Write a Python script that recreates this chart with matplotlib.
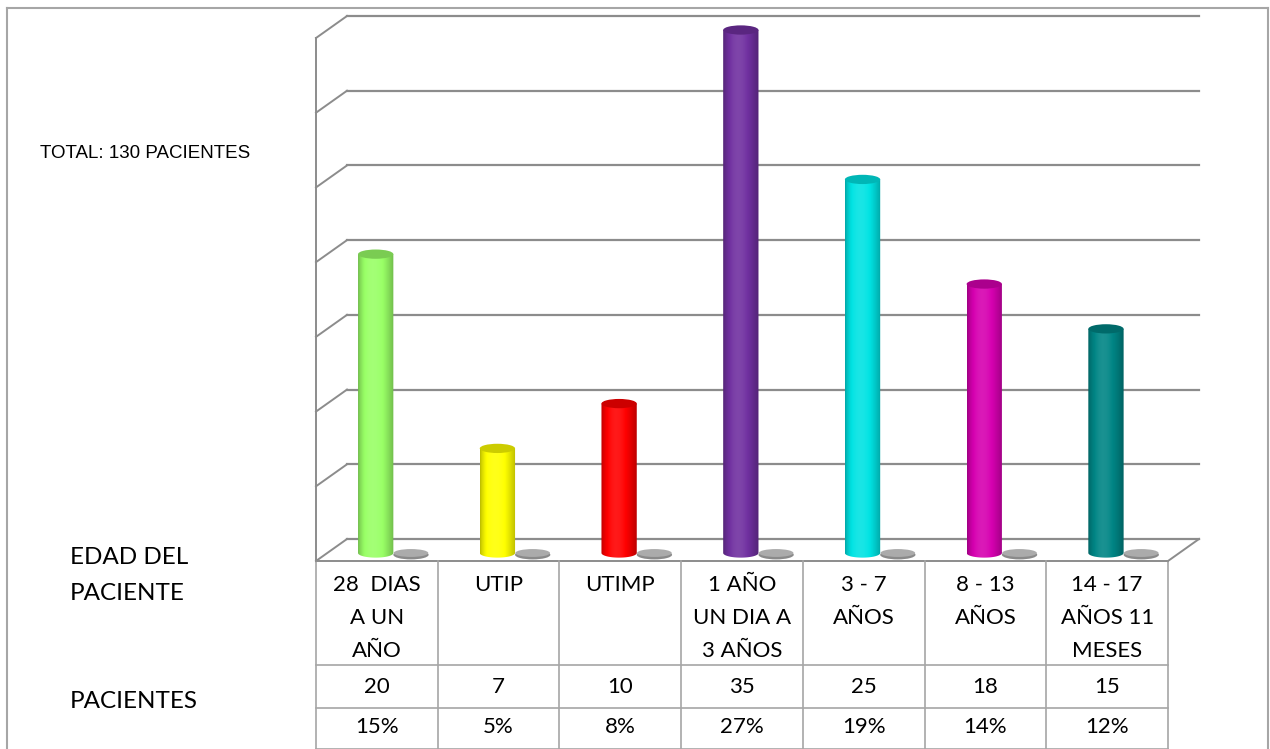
import numpy as np
import matplotlib
matplotlib.use('Agg')
import matplotlib.pyplot as plt
from matplotlib.patches import Ellipse, PathPatch
from matplotlib.path import Path
from matplotlib.lines import Line2D
from matplotlib.colors import to_rgb
from matplotlib.transforms import ScaledTranslation, blended_transform_factory

categories = ['28  DIAS\nA UN\nAÑO', 'UTIP', 'UTIMP', '1 AÑO\nUN DIA A\n3 AÑOS',
              '3 - 7\nAÑOS', '8 - 13\nAÑOS', '14 - 17\nAÑOS 11\nMESES']
pacientes = [20, 7, 10, 35, 25, 18, 15]
porcentajes = ['15%', '5%', '8%', '27%', '19%', '14%', '12%']
empty_series = [0, 0, 0, 0, 0, 0, 0]
bar_colors = ['#99ff66', '#ffff00', '#ff0000', '#7030a0',
              '#00e3e3', '#d600b0', '#008585']
y_ticks = [0, 5, 10, 15, 20, 25, 30, 35]

W, H = 1270, 749
CALIBRI = ['Lato', 'DejaVu Sans']
GRID = '#8c8c8c'
TABLE = '#a6a6a6'
PX = (553 - 30) / 35.0  # pixels per patient

fig = plt.figure(figsize=(W / 100, H / 100), dpi=100)
fig.patch.set_facecolor('white')


def fy(y):
    # pixel row (from the top) to figure fraction
    return 1 - y / H


# plane in which the cylinders stand, with one unit of headroom on each end
ax = fig.add_axes([327 / W, fy(553 + PX), 852 / W, (553 - 30 + 2 * PX) / H])
ax.set_axis_off()
ax.set_autoscale_on(False)
ax.set_xlim(-0.5, 6.5)
ax.set_ylim(-1, 36)

back = ax.transData + ScaledTranslation(0.20, 0.14, fig.dpi_scale_trans)
front = ax.transData + ScaledTranslation(-0.11, -0.08, fig.dpi_scale_trans)
x0, x1 = -0.5, len(categories) - 0.5


def link(x, v):
    # diagonal from the front plane to the back wall
    p0 = front.transform((x, v))
    p1 = back.transform((x, v))
    fig.add_artist(Line2D([p0[0] / W, p1[0] / W], [p0[1] / H, p1[1] / H],
                          color=GRID, lw=1.4, zorder=1))


# back wall gridlines, left wall and floor
for v in y_ticks:
    ax.add_line(Line2D([x0, x1], [v, v], transform=back, color=GRID,
                       lw=1.6, clip_on=False, zorder=1))
    link(x0, v)
ax.add_line(Line2D([x0, x0], [0, 35], transform=front, color=GRID, lw=1.4,
                   clip_on=False, zorder=1))
ax.add_line(Line2D([x0, x1], [0, 0], transform=front, color=GRID, lw=1.4,
                   clip_on=False, zorder=1))
link(x1, 0)


def shade(rgb, f):
    rgb = np.asarray(rgb)
    if f <= 1:
        return rgb * f
    return rgb + (1 - rgb) * (f - 1)


def cylinder(c, v, w, eh, color):
    base = to_rgb(color)
    left, right = c - w / 2, c + w / 2
    th = np.linspace(np.pi, 2 * np.pi, 40)
    verts = ([(left, v)] + list(zip(c + w / 2 * np.cos(th), eh / 2 * np.sin(th)))
             + [(right, v), (left, v)])
    clip = PathPatch(Path(verts), facecolor='none', edgecolor='none',
                     transform=ax.transData)
    ax.add_patch(clip)
    t = np.linspace(0, 1, 60)
    prof = 0.74 + 0.36 * np.sin(np.pi * t ** 0.8)
    row = np.array([shade(base, f) for f in prof]).clip(0, 1)
    im = ax.imshow(row[None, :, :], extent=[left, right, -eh / 2, v],
                   aspect='auto', interpolation='bilinear', zorder=3)
    im.set_clip_path(clip)
    ax.add_patch(Ellipse((c, v), w, eh, facecolor=shade(base, 0.8),
                         edgecolor='none', zorder=4))


bar_w = 0.29
ell_h = 0.62
for i, (val, col) in enumerate(zip(pacientes, bar_colors)):
    cylinder(i - 0.1, val, bar_w, ell_h, col)

# second (empty) series shows up as flat grey discs
for i, val in enumerate(empty_series):
    c = i + 0.19
    ax.add_patch(Ellipse((c, val - 0.12), bar_w, ell_h, facecolor='#8a8a8a',
                         edgecolor='none', zorder=3))
    ax.add_patch(Ellipse((c, val), bar_w * 0.98, ell_h * 0.85,
                         facecolor='#ababab', edgecolor='none', zorder=3))

# data table under the floor
tab = blended_transform_factory(front, fig.transFigure)
for y in [665, 708, 749]:
    ax.add_line(Line2D([x0, x1], [fy(y), fy(y)], transform=tab, color=TABLE,
                       lw=1.2, clip_on=False))
for k in range(len(categories) + 1):
    ax.add_line(Line2D([x0 + k, x0 + k], [fy(561), fy(749)], transform=tab,
                       color=TABLE, lw=1.2, clip_on=False))

for i, lab in enumerate(categories):
    for j, line in enumerate(lab.split('\n')):
        ax.text(i, fy(585 + 33 * j), line, transform=tab, ha='center',
                va='center', fontsize=16, family=CALIBRI)
    ax.text(i, fy(687), str(pacientes[i]), transform=tab, ha='center',
            va='center', fontsize=16, family=CALIBRI)
    ax.text(i, fy(727), porcentajes[i], transform=tab, ha='center',
            va='center', fontsize=16, family=CALIBRI)

fig.text(70 / W, fy(557), 'EDAD DEL', ha='left', va='center', fontsize=17.5,
         family=CALIBRI)
fig.text(70 / W, fy(593), 'PACIENTE', ha='left', va='center', fontsize=17.5,
         family=CALIBRI)
fig.text(70 / W, fy(701), 'PACIENTES', ha='left', va='center', fontsize=17.5,
         family=CALIBRI)
fig.text(40 / W, fy(154), 'TOTAL: 130 PACIENTES', ha='left', va='center',
         fontsize=13.5, family=['Liberation Sans', 'DejaVu Sans'])

# outer frame of the chart area
for xs, ys in [([7, 7], [8, 749]), ([7, 1268], [8, 8]), ([1268, 1268], [8, 749])]:
    fig.add_artist(Line2D([x / W for x in xs], [fy(y) for y in ys],
                          color=TABLE, lw=1.5))

fig.savefig('out.png', dpi=100)
